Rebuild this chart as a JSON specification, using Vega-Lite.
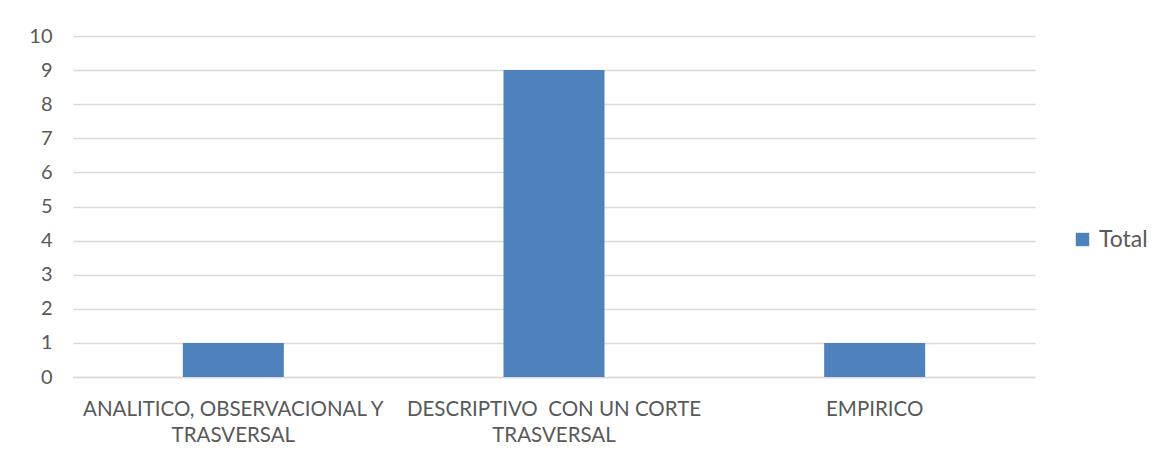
{
  "$schema": "https://vega.github.io/schema/vega-lite/v6.json",
  "width": 962,
  "height": 341,
  "autosize": {"type": "none"},
  "padding": {"left": 73, "top": 36, "right": 138, "bottom": 88},
  "background": "white",
  "config": {
    "font": "Lato",
    "view": {"stroke": null},
    "axis": {"labelColor": "#595959", "labelFont": "Lato", "domain": false, "ticks": false, "gridColor": "#d9d9d9", "gridWidth": 1.3}
  },
  "data": {
    "values": [
      {"tipo": "ANALITICO, OBSERVACIONAL Y TRASVERSAL", "serie": "Total", "valor": 1},
      {"tipo": "DESCRIPTIVO  CON UN CORTE TRASVERSAL", "serie": "Total", "valor": 9},
      {"tipo": "EMPIRICO", "serie": "Total", "valor": 1}
    ]
  },
  "mark": {"type": "bar"},
  "encoding": {
    "x": {
      "field": "tipo",
      "type": "nominal",
      "sort": null,
      "scale": {"paddingInner": 0.685, "paddingOuter": 0.3425},
      "axis": {
        "title": null,
        "labelAngle": 0,
        "labelLimit": 0,
        "labelFontSize": 20.5,
        "labelPadding": 22,
        "labelLineHeight": 26,
        "labelBaseline": "top",
        "labelOverlap": false,
        "grid": false,
        "domain": true,
        "domainColor": "#d9d9d9",
        "domainWidth": 1.3,
        "labelExpr": "datum.label == 'ANALITICO, OBSERVACIONAL Y TRASVERSAL' ? ['ANALITICO, OBSERVACIONAL Y', 'TRASVERSAL'] : datum.label == 'DESCRIPTIVO  CON UN CORTE TRASVERSAL' ? ['DESCRIPTIVO\u00a0 CON UN CORTE', 'TRASVERSAL'] : datum.label"
      }
    },
    "y": {
      "field": "valor",
      "type": "quantitative",
      "scale": {"domain": [0, 10]},
      "axis": {"title": null, "values": [0,1,2,3,4,5,6,7,8,9,10], "labelFontSize": 20, "labelOverlap": false, "labelPadding": 21, "grid": true}
    },
    "color": {
      "field": "serie",
      "type": "nominal",
      "scale": {"range": ["#4f81bd"]},
      "legend": {
        "title": null,
        "orient": "none",
        "legendX": 998,
        "legendY": 192,
        "symbolType": "square",
        "symbolSize": 180,
        "symbolStrokeWidth": 0,
        "labelFontSize": 23,
        "labelColor": "#595959",
        "labelFont": "Lato",
        "labelOffset": 5
      }
    }
  }
}
